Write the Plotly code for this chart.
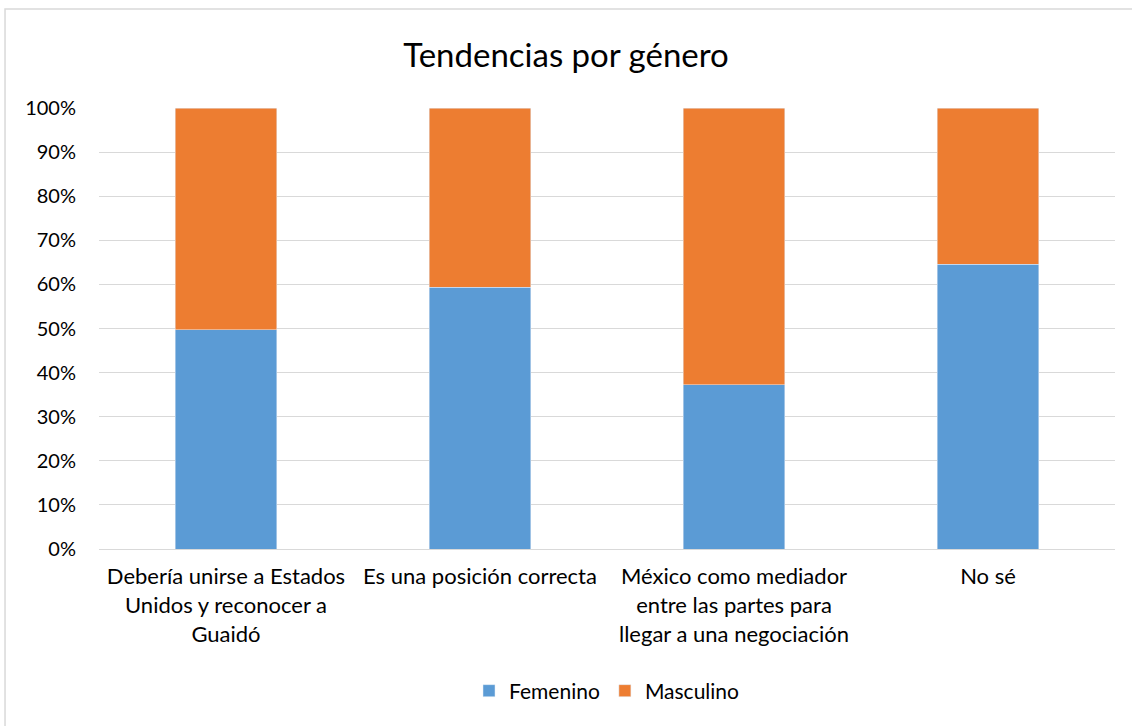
import plotly.graph_objs as go

categories = [
    'Debería unirse a Estados<br>Unidos y reconocer a<br>Guaidó',
    'Es una posición correcta',
    'México como mediador<br>entre las partes para<br>llegar a una negociación',
    'No sé',
]
femenino = [0.497, 0.594, 0.372, 0.646]
masculino = [1 - v for v in femenino]
y_ticks = [i / 10 for i in range(11)]

fig = go.Figure()
fig.add_trace(go.Bar(x=categories, y=femenino, name='Femenino', marker_color='#5b9bd5', width=0.4))
fig.add_trace(go.Bar(x=categories, y=masculino, name='Masculino', marker_color='#ed7d31', width=0.4))

fig.update_layout(
    barmode='stack',
    width=1132, height=726,
    font=dict(family='Lato, Carlito, sans-serif', size=20, color='#000000'),
    title=dict(text='Tendencias por género', x=0.5, xanchor='center', y=0.924, yanchor='middle',
               font=dict(size=33, color='#000000')),
    plot_bgcolor='white', paper_bgcolor='white',
    margin=dict(l=99, r=17, t=108, b=177),
    legend=dict(orientation='h', x=0.5, xanchor='center', y=-0.322, yanchor='middle',
                font=dict(size=21), traceorder='normal', itemwidth=30),
    xaxis=dict(showline=True, linecolor='#d9d9d9', ticks='outside', ticklen=8,
               tickcolor='rgba(0,0,0,0)', tickfont=dict(size=22)),
    yaxis=dict(range=[0, 1], tickvals=y_ticks, tickformat='.0%', gridcolor='#d9d9d9',
               zeroline=False, showline=False, ticks='outside', ticklen=18,
               tickcolor='rgba(0,0,0,0)', tickfont=dict(size=20)),
    shapes=[dict(type='rect', xref='paper', yref='paper', x0=-0.0925, x1=1.05, y0=-0.5, y1=1.2245,
                 line=dict(color='#d9d9d9', width=1.5), layer='below')],
)

# drop the page's default body margin so the chart sits at the top-left corner
fig.write_html('out.html', config={'displayModeBar': False},
               post_script="document.body.style.margin='0';")
